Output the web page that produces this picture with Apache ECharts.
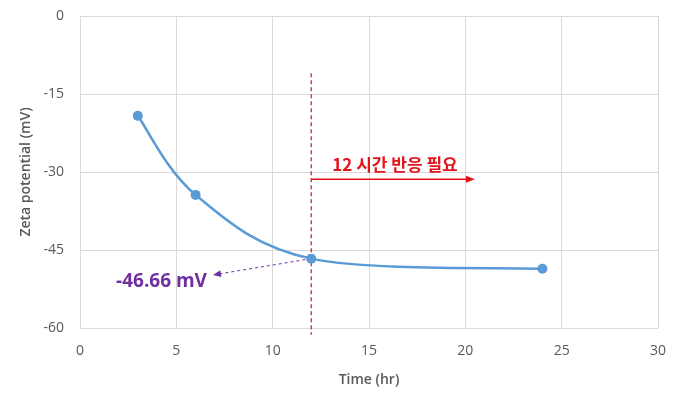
<!DOCTYPE html>
<html><head><meta charset="utf-8">
<script src="https://cdn.jsdelivr.net/npm/echarts@6/dist/echarts.min.js"></script>
<style>html,body{margin:0;padding:0;background:#fff}#c{width:680px;height:412px}</style>
</head><body><div id="c"></div>
<script>
// data
var timeHr = [3, 6, 12, 24];
var zeta = [-19.2, -34.4, -46.66, -48.6];
var xTicks = [0, 5, 10, 15, 20, 25, 30];
var yTicks = [0, -15, -30, -45, -60];
// annotations (data space)
var vLine = [[12, -11], [12, -61.3]];
var redArrow = [[12, -31.4], [20.5, -31.4]];
var redText = '12 시간 반응 필요';
var redTextPos = [16.35, -28.6];
var purpleArrow = [[12, -46.66], [6.9, -49.8]];
var purpleText = '-46.66 mV';
var purpleTextPos = [4.23, -51.0];

var RED = '#E3131B', PURPLE = '#7030A0', BLUE = '#5B9BD5', grey = '#595959';

function arrowHead(from, to, len, half, color) {
  var dx = to[0] - from[0], dy = to[1] - from[1];
  var d = Math.sqrt(dx * dx + dy * dy); dx /= d; dy /= d;
  var bx = to[0] - dx * len, by = to[1] - dy * len;
  return {type: 'polygon', shape: {points: [to, [bx - dy * half, by + dx * half], [bx + dy * half, by - dx * half]]},
    style: {fill: color}};
}

var chart = echarts.init(document.getElementById('c'));
chart.setOption({
  animation: false,
  backgroundColor: '#fff',
  grid: {left: 80, right: 22, top: 16, bottom: 84},
  xAxis: {
    type: 'value', min: 0, max: 30, interval: 5,
    name: 'Time (hr)', nameLocation: 'middle', nameGap: 45,
    nameTextStyle: {color: grey, fontSize: 14, fontFamily: 'Open Sans', fontWeight: 600},
    axisLine: {show: true, lineStyle: {color: '#D9D9D9', width: 1}},
    axisTick: {show: false},
    axisLabel: {color: grey, fontSize: 14, fontFamily: 'Open Sans', margin: 16},
    splitLine: {show: true, lineStyle: {color: '#D9D9D9', width: 1}}
  },
  yAxis: {
    type: 'value', min: -60, max: 0, interval: 15,
    name: 'Zeta potential (mV)', nameLocation: 'middle', nameGap: 47, nameRotate: 90,
    nameTextStyle: {color: grey, fontSize: 14, fontFamily: 'Open Sans', fontWeight: 600},
    axisLine: {show: true, lineStyle: {color: '#D9D9D9', width: 1}},
    axisTick: {show: false},
    axisLabel: {color: grey, fontSize: 14, fontFamily: 'Open Sans', margin: 16},
    splitLine: {show: true, lineStyle: {color: '#D9D9D9', width: 1}}
  },
  series: [
    {
      // smoothed curve (Excel-style Bezier through the data points)
      type: 'custom',
      clip: false, silent: true, z: 3,
      data: [[0]],
      renderItem: function (params, api) {
        var P = timeHr.map(function (t, i) { return api.coord([t, zeta[i]]); });
        var n = P.length;
        var d = 'M' + P[0][0] + ' ' + P[0][1];
        for (var i = 0; i < n - 1; i++) {
          var pm = P[Math.max(i - 1, 0)], p0 = P[i], p1 = P[i + 1], p2 = P[Math.min(i + 2, n - 1)];
          var c1 = [p0[0] + (p1[0] - pm[0]) / 6, p0[1] + (p1[1] - pm[1]) / 6];
          var c2 = [p1[0] - (p2[0] - p0[0]) / 6, p1[1] - (p2[1] - p0[1]) / 6];
          d += ' C' + c1[0] + ' ' + c1[1] + ' ' + c2[0] + ' ' + c2[1] + ' ' + p1[0] + ' ' + p1[1];
        }
        return {type: 'path', shape: {pathData: d},
          style: {stroke: BLUE, lineWidth: 2.5, fill: null}};
      }
    },
    {
      type: 'line',
      data: timeHr.map(function (t, i) { return [t, zeta[i]]; }),
      symbol: 'circle', symbolSize: 10,
      itemStyle: {color: BLUE},
      lineStyle: {width: 0, opacity: 0},
      z: 4,
      markPoint: {
        silent: true,
        symbol: 'circle', symbolSize: 0,
        data: [
          {coord: redTextPos, label: {show: true, formatter: redText, color: RED, fontSize: 17, fontWeight: 'bold', fontFamily: 'Noto Sans CJK KR'}},
          {coord: purpleTextPos, label: {show: true, formatter: purpleText, color: PURPLE, fontSize: 19, fontWeight: 'bold', fontFamily: 'Open Sans'}}
        ]
      }
    },
    {
      // annotation lines and arrows
      type: 'custom',
      clip: false, silent: true, z: 2,
      data: [[0]],
      renderItem: function (params, api) {
        var v1 = api.coord(vLine[0]), v2 = api.coord(vLine[1]);
        var r1 = api.coord(redArrow[0]), r2 = api.coord(redArrow[1]);
        var p1 = api.coord(purpleArrow[0]), p2 = api.coord(purpleArrow[1]);
        var r2b = [r2[0] - 6, r2[1]];
        var pdx = p2[0] - p1[0], pdy = p2[1] - p1[1], pl = Math.sqrt(pdx * pdx + pdy * pdy);
        var p2b = [p2[0] - pdx / pl * 6, p2[1] - pdy / pl * 6];
        return {type: 'group', children: [
          {type: 'line', shape: {x1: v1[0], y1: v1[1], x2: v2[0], y2: v2[1]},
            style: {stroke: '#D0101A', lineWidth: 1.2, lineDash: [4, 3]}},
          {type: 'line', shape: {x1: r1[0], y1: r1[1], x2: r2b[0], y2: r2b[1]},
            style: {stroke: RED, lineWidth: 1.6}},
          arrowHead(r1, r2, 9, 3.5, RED),
          {type: 'line', shape: {x1: p1[0], y1: p1[1], x2: p2b[0], y2: p2b[1]},
            style: {stroke: PURPLE, lineWidth: 1, lineDash: [3, 3]}},
          arrowHead(p1, p2, 8, 3.5, PURPLE)
        ]};
      }
    }
  ]
});
</script></body></html>
